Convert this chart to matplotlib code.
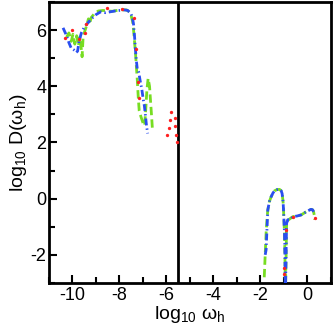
import numpy as np
import matplotlib
matplotlib.use("Agg")
import matplotlib.pyplot as plt
from matplotlib.ticker import MultipleLocator

nan = np.nan

# Green (dashed) series
green_x = [-10.25, -10.15, -10.05, -9.98, -9.9, -9.82, -9.75, -9.68, -9.62, -9.59, -9.55, -9.48, -9.4, -9.32, -9.28, -9.2, -9.05, -8.9, -8.7, -8.5, -8.3, -8.1, -7.9, -7.7, -7.58, -7.5, -7.44, -7.4, -7.36, -7.32, -7.28, -7.24, -7.2, -7.16, -7.08, -7.0, -6.93, -6.88, -6.83, -6.78, -6.72, -6.68, -6.63, -6.6,
           nan,
           -1.84, -1.8, -1.76, -1.72, -1.69, -1.62, -1.55, -1.47, -1.4, -1.3, -1.19, -1.12, -1.08, -1.04, -1.02, -1.0, -0.98, -0.96, -0.95,
           nan,
           -0.93, -0.91, -0.89, -0.84, -0.77, -0.62, -0.45, -0.27, -0.06, 0.1, 0.16, 0.22, 0.26, 0.29, 0.3]
green_y = [5.75, 5.9, 5.6, 5.85, 5.5, 5.8, 5.45, 5.75, 5.3, 5.05, 5.7, 5.95, 6.15, 6.4, 6.2, 6.45, 6.6, 6.68, 6.7, 6.68, 6.67, 6.7, 6.72, 6.72, 6.65, 6.5, 6.3, 6.0, 5.6, 5.2, 4.7, 4.2, 3.6, 3.13, 2.9, 2.7, 2.6, 3.2, 3.9, 4.28, 4.0, 3.5, 2.9, 2.5,
           nan,
           -2.8, -2.0, -1.2, -0.7, -0.41, -0.1, 0.06, 0.2, 0.28, 0.32, 0.33, 0.28, 0.18, -0.1, -0.41, -0.8, -1.23, -2.0, -3.0,
           nan,
           -3.0, -2.0, -0.95, -0.78, -0.73, -0.64, -0.62, -0.58, -0.47, -0.40, -0.38, -0.40, -0.47, -0.6, -0.75]

# Blue (dash-dot) series
blue_x = [-10.4, -10.25, -10.15, -10.05, -9.95, -9.85, -9.78, -9.72, -9.62, -9.5, -9.35, -9.2, -9.0, -8.8, -8.6, -8.4, -8.2, -8.0, -7.8, -7.65, -7.52, -7.45, -7.4, -7.36, -7.32, -7.28, -7.24, -7.18, -7.12, -7.05, -7.0, -6.94, -6.9, -6.85, -6.8,
          nan,
          -1.80, -1.76, -1.72, -1.69, -1.62, -1.55, -1.47, -1.40, -1.30, -1.19, -1.12, -1.08, -1.04, -1.02, -1.00, -0.98, -0.96, -0.95,
          nan,
          -0.93, -0.91, -0.89, -0.84, -0.77, -0.62, -0.45, -0.27, -0.06, 0.1, 0.16, 0.22, 0.26]
blue_y = [6.08, 5.8, 5.55, 5.35, 5.3, 5.2, 5.25, 5.6, 5.9, 6.1, 6.25, 6.4, 6.55, 6.65, 6.62, 6.65, 6.68, 6.7, 6.72, 6.7, 6.6, 6.45, 6.2, 5.8, 5.3, 4.9, 4.6, 4.5, 4.2, 3.9, 3.6, 3.3, 3.0, 2.6, 2.32,
          nan,
          -2.0, -1.82, -1.0, -0.41, -0.1, 0.06, 0.2, 0.28, 0.32, 0.33, 0.28, 0.18, -0.1, -0.41, -0.8, -1.23, -2.0, -3.0,
          nan,
          -3.0, -2.0, -0.88, -0.75, -0.76, -0.64, -0.62, -0.58, -0.47, -0.40, -0.38, -0.40, -0.47]

# Red (dotted) series
red_x = [-10.3, -10.01, -9.74, -9.45, -9.42, -8.54, -7.89, -7.4, -7.29, -7.22, -7.18,
         -5.8, -5.87, -5.65, -5.91, -5.62, -5.97, -5.59, -5.56,
         -1.02, -0.98, -0.91, -0.63, 0.3]
red_y = [5.73, 5.99, 5.69, 5.9, 6.22, 6.77, 6.74, 6.44, 5.32, 4.16, 3.57,
         3.07, 2.8, 2.86, 2.52, 2.57, 2.25, 2.28, 2.01,
         -2.47, -2.7, -1.12, -0.64, -0.7]

divider_x = -5.5

plt.rcParams['font.family'] = ['Liberation Sans', 'DejaVu Sans']
plt.rcParams['mathtext.fontset'] = 'custom'
plt.rcParams['mathtext.rm'] = 'Liberation Sans'
plt.rcParams['mathtext.it'] = 'Liberation Sans'
plt.rcParams['lines.scale_dashes'] = False
plt.rcParams['axes.unicode_minus'] = False

fig = plt.figure(figsize=(3.33, 3.34), dpi=100)
ax = fig.add_axes([0.147, 0.153, 0.847, 0.841])

ax.plot(green_x, green_y, color='#77dd22', lw=2.0, ls=(0, (6, 3)), zorder=2)
ax.plot(blue_x, blue_y, color='#2a4ef0', lw=2.0, ls=(0, (5, 2.2, 1, 2.2)), zorder=3)
ax.plot(red_x, red_y, ls='none', marker='o', ms=2.4, color='#ff2020', mec='none', zorder=4)

ax.axvline(divider_x, color='black', lw=2)

ax.set_xlim(-11, 1)
ax.set_ylim(-3, 7)
ax.xaxis.set_major_locator(MultipleLocator(2))
ax.xaxis.set_minor_locator(MultipleLocator(1))
ax.yaxis.set_major_locator(MultipleLocator(2))
ax.yaxis.set_minor_locator(MultipleLocator(1))
ax.tick_params(which='both', direction='in', width=1.5, labelsize=13, top=False, right=False)
ax.tick_params(axis='y', pad=2)
ax.tick_params(axis='x', pad=3)
ax.tick_params(which='major', length=6)
ax.tick_params(which='minor', length=4)
for s in ax.spines.values():
    s.set_linewidth(2)

ax.set_xlabel(r'log$_{10}$ $\omega_{\mathrm{h}}$', fontsize=14, labelpad=0)
ax.set_ylabel(r'log$_{10}$ D($\omega_{\mathrm{h}}$)', fontsize=14, labelpad=1)

fig.savefig('out.png', dpi=100)
